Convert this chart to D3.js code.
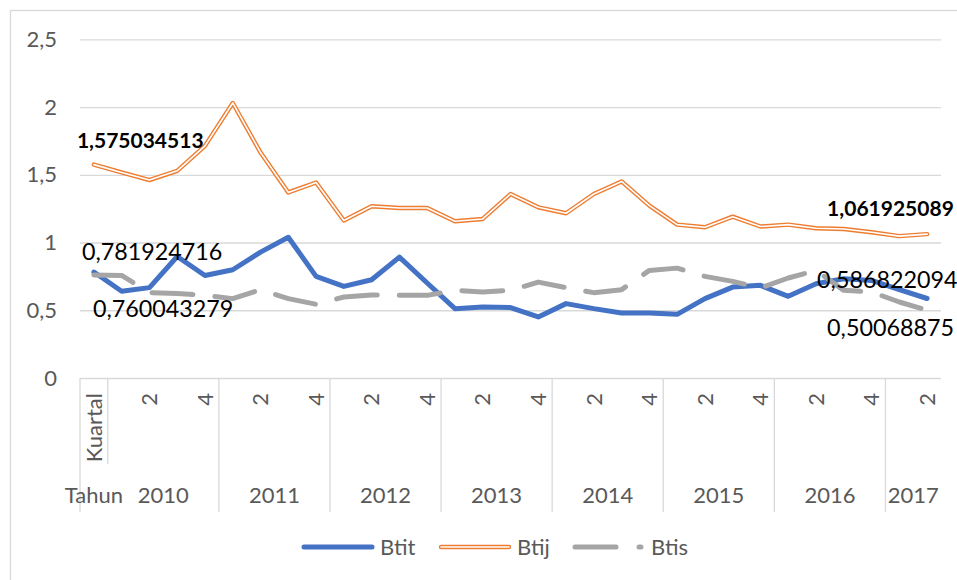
<!DOCTYPE html>
<html>
<head>
<meta charset="utf-8">
<script src="https://cdn.jsdelivr.net/npm/d3@7"></script>
<style>
    body { margin: 0; overflow: hidden; background: #fff; }
    text { font-family: Lato, "Open Sans", sans-serif; }
</style>
</head>
<body>
<div class="container"></div>
<script>
// category labels (first column is the header row of the sheet)
const quarters = ["Kuartal",
    "1", "2", "3", "4", "1", "2", "3", "4", "1", "2", "3", "4", "1", "2", "3", "4",
    "1", "2", "3", "4", "1", "2", "3", "4", "1", "2", "3", "4", "1", "2"];
const years = ["Tahun", "2010", "2011", "2012", "2013", "2014", "2015", "2016", "2017"];
const yearSpan = [1, 4, 4, 4, 4, 4, 4, 4, 2];

const btit = [0.781924716, 0.64, 0.667, 0.897, 0.757, 0.799, 0.929, 1.039, 0.75, 0.676,
    0.725, 0.892, 0.701, 0.512, 0.524, 0.52, 0.451, 0.549, 0.512, 0.48,
    0.48, 0.47, 0.586, 0.671, 0.684, 0.603, 0.696, 0.733, 0.72, 0.652, 0.586822094];
const btij = [1.575034513, 1.517, 1.461, 1.529, 1.713, 2.03, 1.664, 1.37, 1.443, 1.162,
    1.268, 1.255, 1.255, 1.157, 1.174, 1.358, 1.26, 1.216, 1.358, 1.451,
    1.272, 1.132, 1.113, 1.191, 1.118, 1.132, 1.105, 1.1, 1.076, 1.047, 1.061925089];
const btis = [0.760043279, 0.757, 0.63, 0.623, 0.61, 0.586, 0.652, 0.586, 0.544, 0.598,
    0.613, 0.61, 0.61, 0.647, 0.635, 0.647, 0.708, 0.667, 0.63, 0.652,
    0.794, 0.811, 0.75, 0.713, 0.664, 0.738, 0.794, 0.647, 0.635, 0.561, 0.50068875];

const yTicks = [0, 0.5, 1, 1.5, 2, 2.5];
const seriesNames = ["Btit", "Btij", "Btis"];

let width = 957,
    height = 580,
    plot = { left: 80, right: 941, top: 39.3, bottom: 378 };

const fmt = (v) => String(v).replace(".", ",");
const grid = "#d9d9d9", labelColor = "#595959";
const axisFont = "22px";

let svg = d3.select(".container")
    .append("svg")
    .attr("width", width)
    .attr("height", height);

// chart area border
svg.append("rect")
    .attr("x", 10.5).attr("y", 10.5)
    .attr("width", 1000).attr("height", 700)
    .attr("fill", "#fff")
    .attr("stroke", grid)
    .attr("stroke-width", 1.3);

let x = d3.scaleBand()
    .domain(d3.range(quarters.length))
    .range([plot.left, plot.right]);
const cx = (i) => x(i) + x.bandwidth() / 2;

let y = d3.scaleLinear()
    .domain([0, 2.5])
    .range([plot.bottom, plot.top]);

// y axis + gridlines
let yAxis = svg.append("g")
    .attr("transform", "translate(" + plot.left + ",0)")
    .call(d3.axisLeft(y)
        .tickValues(yTicks)
        .tickSize(-(plot.right - plot.left))
        .tickPadding(23)
        .tickFormat(fmt));
yAxis.select(".domain").remove();
yAxis.selectAll("line").attr("stroke", grid).attr("stroke-width", 1.3);
yAxis.selectAll("text")
    .attr("fill", labelColor)
    .style("font-size", axisFont)
    .style("font-family", "Lato, sans-serif");

// multi level category axis
let xAxis = svg.append("g").attr("class", "axis");

// quarter level, every second label
quarters.forEach((d, i) => {
    if (i % 2 != 0) return;
    xAxis.append("text")
        .attr("transform", "translate(" + cx(i) + ",393) rotate(-90)")
        .attr("text-anchor", "end")
        .attr("dy", "0.35em")
        .attr("fill", labelColor)
        .style("font-size", axisFont)
        .text(d);
});

// year level
let start = 0;
years.forEach((yr, k) => {
    let n = yearSpan[k];
    let x0 = x(start), x1 = x(start + n - 1) + x.bandwidth();
    xAxis.append("line")
        .attr("x1", x0).attr("x2", x0)
        .attr("y1", plot.bottom)
        .attr("y2", k == 1 ? 464 : 512)
        .attr("stroke", grid)
        .attr("stroke-width", 1.3);
    xAxis.append("text")
        .attr("x", (x0 + x1) / 2)
        .attr("y", 503)
        .attr("text-anchor", "middle")
        .attr("fill", labelColor)
        .style("font-size", axisFont)
        .text(yr);
    start += n;
});

let line = d3.line()
    .x((d, i) => cx(i))
    .y((d) => y(d));

// Btit
svg.append("path")
    .datum(btit)
    .attr("d", line)
    .attr("fill", "none")
    .attr("stroke", "#4472c4")
    .attr("stroke-width", 5)
    .attr("stroke-linejoin", "round")
    .attr("stroke-linecap", "round");

// Btij - double (compound) line
svg.append("path")
    .datum(btij)
    .attr("d", line)
    .attr("fill", "none")
    .attr("stroke", "#ed7d31")
    .attr("stroke-width", 4.4)
    .attr("stroke-linejoin", "round")
    .attr("stroke-linecap", "round");
svg.append("path")
    .datum(btij)
    .attr("d", line)
    .attr("fill", "none")
    .attr("stroke", "#fff")
    .attr("stroke-width", 1.6)
    .attr("stroke-linejoin", "round")
    .attr("stroke-linecap", "round");

// Btis
svg.append("path")
    .datum(btis)
    .attr("d", line)
    .attr("fill", "none")
    .attr("stroke", "#a5a5a5")
    .attr("stroke-width", 5)
    .attr("stroke-dasharray", "41,22")
    .attr("stroke-linejoin", "round")
    .attr("stroke-linecap", "round");

// data labels on first and last point
const last = quarters.length - 1;
let labels = [
    { v: btij[0], i: 0, dx: -17, dy: -17, bold: true },
    { v: btit[0], i: 0, dx: -12, dy: -12, bold: false },
    { v: btis[0], i: 0, dx: -1, dy: 42, bold: false },
    { v: btij[last], i: last, dx: -100, dy: -18, bold: true },
    { v: btit[last], i: last, dx: -110, dy: -10, bold: false },
    { v: btis[last], i: last, dx: -100, dy: 26, bold: false }
];
svg.append("g")
    .selectAll("text")
    .data(labels)
    .enter()
    .append("text")
    .attr("x", (d) => cx(d.i) + d.dx)
    .attr("y", (d) => y(d.v) + d.dy)
    .attr("fill", "#000")
    .style("font-size", (d) => d.bold ? "21px" : "23.3px")
    .style("font-weight", (d) => d.bold ? "bold" : "normal")
    .text((d) => fmt(d.v));

// legend
let legend = svg.append("g").attr("transform", "translate(0,547)");
const legX = [304, 441, 575];
seriesNames.forEach((name, k) => {
    let g = legend.append("g").attr("transform", "translate(" + legX[k] + ",0)");
    if (k == 0) {
        g.append("line").attr("x1", 0).attr("x2", 68)
            .attr("stroke", "#4472c4").attr("stroke-width", 5).attr("stroke-linecap", "round");
    } else if (k == 1) {
        g.append("line").attr("x1", 0).attr("x2", 68)
            .attr("stroke", "#ed7d31").attr("stroke-width", 4.4).attr("stroke-linecap", "round");
        g.append("line").attr("x1", 0).attr("x2", 68)
            .attr("stroke", "#fff").attr("stroke-width", 1.6).attr("stroke-linecap", "round");
    } else {
        g.append("line").attr("x1", 0).attr("x2", 66)
            .attr("stroke", "#a5a5a5").attr("stroke-width", 5)
            .attr("stroke-dasharray", "41,23").attr("stroke-linecap", "round");
    }
    g.append("text")
        .attr("x", 76)
        .attr("y", 7.5)
        .attr("fill", labelColor)
        .style("font-size", axisFont)
        .text(name);
});
</script>
</body>
</html>
